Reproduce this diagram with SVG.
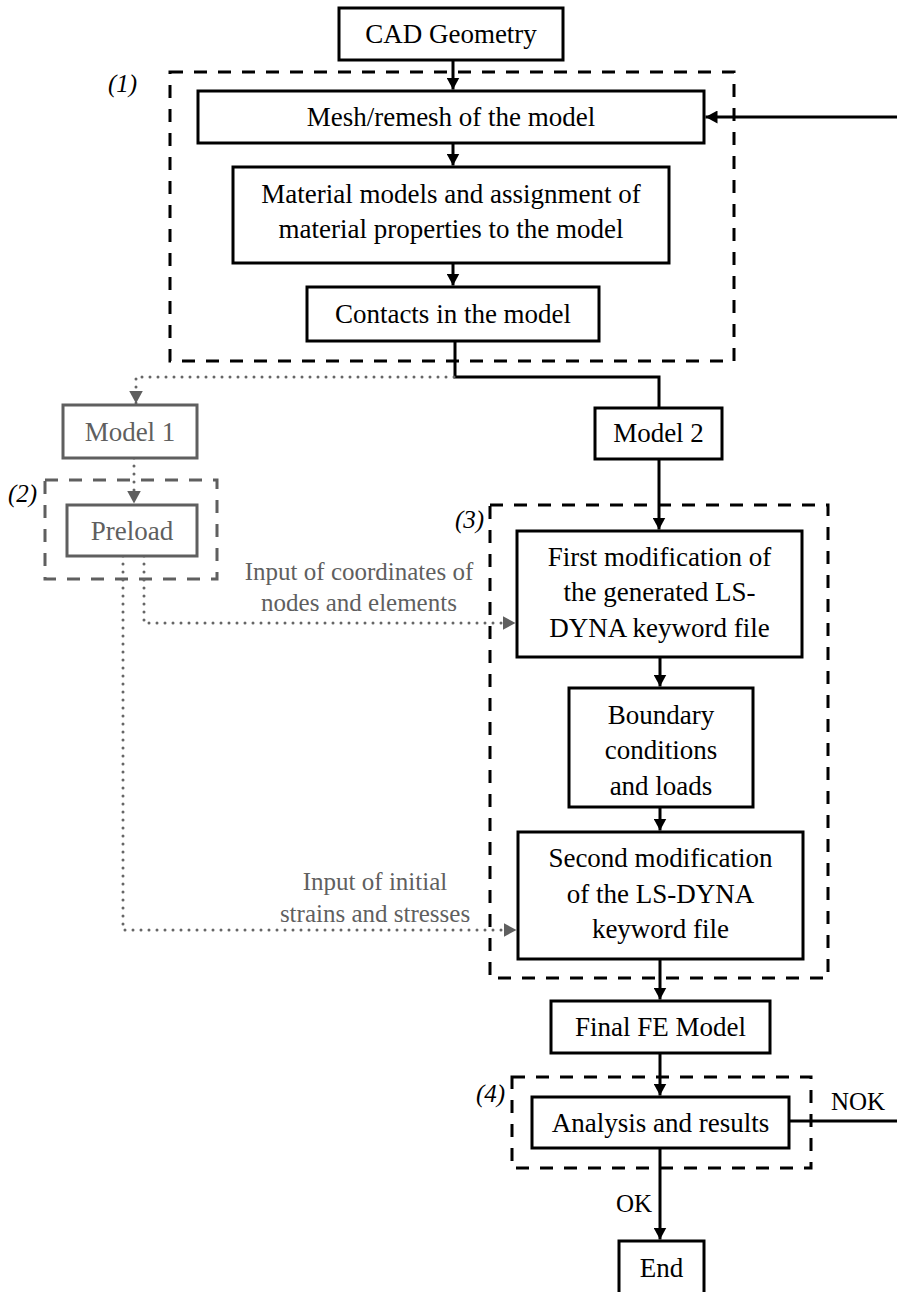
<svg xmlns="http://www.w3.org/2000/svg" width="897" height="1292" viewBox="0 0 897 1292">
<style>
.box{fill:#fff;stroke:#000;stroke-width:3}
.gbox{fill:#fff;stroke:#5f5f5f;stroke-width:3}
.grp{fill:none;stroke:#000;stroke-width:3;stroke-dasharray:13 11}
.ggrp{fill:none;stroke:#5f5f5f;stroke-width:3;stroke-dasharray:13 11}
.t{font-family:"Liberation Serif","Times New Roman",serif;font-size:27px;text-anchor:middle;fill:#000}
.gt{fill:#5f5f5f}
.s25{font-size:25px}
.lbl{font-family:"Liberation Serif","Times New Roman",serif;font-style:italic;font-size:25px;fill:#000}
.ln{fill:none;stroke:#000;stroke-width:3}
.dot{fill:none;stroke:#666;stroke-width:3;stroke-linecap:round;stroke-dasharray:0 8}
</style>
<defs>
<marker id="ah" viewBox="0 0 12 13" markerWidth="12" markerHeight="13" refX="12" refY="6.5" orient="auto" markerUnits="userSpaceOnUse"><path d="M0,0 L12,6.5 L0,13 z" fill="#000"/></marker>
<marker id="gah" viewBox="0 0 12 13" markerWidth="13" markerHeight="14" refX="12" refY="6.5" orient="auto" markerUnits="userSpaceOnUse"><path d="M0,0 L12,6.5 L0,13 z" fill="#5f5f5f"/></marker>
</defs>

<g id="groups">
<rect class="grp" x="170" y="72" width="564" height="289"/>
<text class="lbl" x="108" y="92">(1)</text>
<rect class="ggrp" x="45" y="480" width="172" height="99"/>
<text class="lbl" x="8" y="502">(2)</text>
<rect class="grp" x="490" y="505" width="338" height="473"/>
<text class="lbl" x="455" y="528">(3)</text>
<rect class="grp" x="512" y="1077" width="299" height="91"/>
<text class="lbl" x="476" y="1102">(4)</text>
</g>

<g id="connectors">
<line class="ln" x1="453" y1="60" x2="453" y2="89.5" marker-end="url(#ah)"/>
<line class="ln" x1="453" y1="143" x2="453" y2="165.5" marker-end="url(#ah)"/>
<line class="ln" x1="453" y1="263" x2="453" y2="285.5" marker-end="url(#ah)"/>
<line class="ln" x1="897" y1="117" x2="705.5" y2="117" marker-end="url(#ah)"/>
<path class="ln" d="M455,341 V377 H659 V408"/>
<path class="dot" d="M454,377 H136 V403.5" marker-end="url(#gah)"/>
<line class="dot" x1="134" y1="458" x2="134" y2="503.5" marker-end="url(#gah)"/>
<path class="dot" d="M144,556 V623 H515.5" marker-end="url(#gah)"/>
<path class="dot" d="M123,556 V930 H516.5" marker-end="url(#gah)"/>
<line class="ln" x1="659" y1="458" x2="659" y2="529.5" marker-end="url(#ah)"/>
<line class="ln" x1="660" y1="657" x2="660" y2="686.5" marker-end="url(#ah)"/>
<line class="ln" x1="660" y1="807" x2="660" y2="830.5" marker-end="url(#ah)"/>
<line class="ln" x1="660" y1="959" x2="660" y2="999.5" marker-end="url(#ah)"/>
<line class="ln" x1="660" y1="1053" x2="660" y2="1095.5" marker-end="url(#ah)"/>
<line class="ln" x1="660" y1="1148" x2="660" y2="1239.5" marker-end="url(#ah)"/>
<line class="ln" x1="789" y1="1121" x2="897" y2="1121"/>
<text class="t s25" x="858" y="1110">NOK</text>
<text class="t s25" x="634" y="1212">OK</text>
<text class="t gt s25" x="359" y="580">Input of coordinates of</text>
<text class="t gt s25" x="359" y="611">nodes and elements</text>
<text class="t gt s25" x="375" y="890">Input of initial</text>
<text class="t gt s25" x="375" y="922">strains and stresses</text>
</g>

<g id="cad"><rect class="box" x="339" y="8" width="224" height="52"/><text class="t" x="451" y="43">CAD Geometry</text></g>
<g id="mesh"><rect class="box" x="198" y="91" width="506" height="52"/><text class="t" x="451" y="126">Mesh/remesh of the model</text></g>
<g id="material"><rect class="box" x="233" y="167" width="436" height="96"/><text class="t" x="451" y="203">Material models and assignment of</text><text class="t" x="451" y="238">material properties to the model</text></g>
<g id="contacts"><rect class="box" x="307" y="287" width="292" height="54"/><text class="t" x="453" y="323">Contacts in the model</text></g>
<g id="model1"><rect class="gbox" x="63" y="405" width="134" height="53"/><text class="t gt" x="130" y="441">Model 1</text></g>
<g id="preload"><rect class="gbox" x="67" y="505" width="130" height="51"/><text class="t gt" x="132" y="540">Preload</text></g>
<g id="model2"><rect class="box" x="595" y="408" width="127" height="51"/><text class="t" x="658.5" y="442">Model 2</text></g>
<g id="firstmod"><rect class="box" x="517" y="531" width="285" height="126"/><text class="t" x="659.5" y="566">First modification of</text><text class="t" x="659.5" y="601">the generated LS-</text><text class="t" x="659.5" y="637">DYNA keyword file</text></g>
<g id="boundary"><rect class="box" x="569" y="688" width="184" height="119"/><text class="t" x="661" y="724">Boundary</text><text class="t" x="661" y="759">conditions</text><text class="t" x="661" y="795">and loads</text></g>
<g id="secondmod"><rect class="box" x="518" y="832" width="285" height="127"/><text class="t" x="660.5" y="867">Second modification</text><text class="t" x="660.5" y="903">of the LS-DYNA</text><text class="t" x="660.5" y="938">keyword file</text></g>
<g id="finalfe"><rect class="box" x="551" y="1001" width="219" height="52"/><text class="t" x="660.5" y="1036">Final FE Model</text></g>
<g id="analysis"><rect class="box" x="532" y="1097" width="257" height="51"/><text class="t" x="660.5" y="1132">Analysis and results</text></g>
<g id="end"><rect class="box" x="619" y="1241" width="85" height="70"/><text class="t" x="661.5" y="1277">End</text></g>
</svg>
